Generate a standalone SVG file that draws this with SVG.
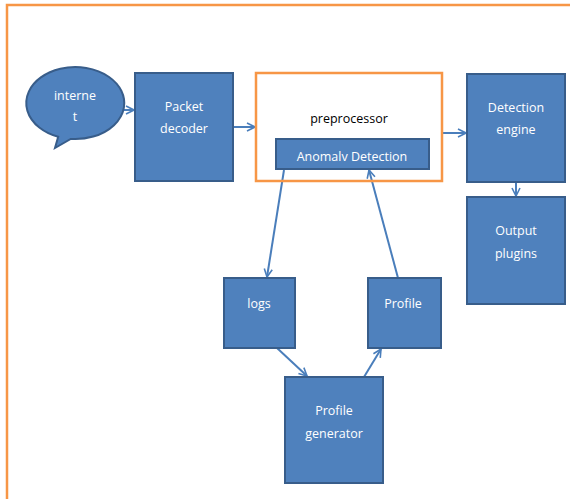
<svg xmlns="http://www.w3.org/2000/svg" width="570" height="499" viewBox="0 0 570 499">
<style>
.box{fill:#4F81BD;stroke:#385D8A;stroke-width:2}
.frame{fill:none;stroke:#F79646;stroke-width:2.5}
.t{fill:#fff;font-family:"Open Sans","Liberation Sans",sans-serif;font-size:12.5px;text-anchor:middle}
.tk{fill:#000;font-family:"Open Sans","Liberation Sans",sans-serif;font-size:12.5px;text-anchor:middle}
.c{fill:none;stroke:#4A7EBB;stroke-width:2;marker-end:url(#a)}
</style>
<defs>
<marker id="a" viewBox="0 0 10 10" refX="9" refY="5" markerWidth="5" markerHeight="5" orient="auto" markerUnits="strokeWidth">
<path d="M1,1 L9,5 L1,9" fill="none" stroke="#4A7EBB" stroke-width="1.6"/>
</marker>
</defs>
<rect width="570" height="499" fill="#fff"/>
<path class="frame" d="M7,499 V5 H570"/>
<g id="connectors">
<line class="c" x1="124" y1="110" x2="134" y2="110"/>
<line class="c" x1="233" y1="127" x2="255" y2="127"/>
<line class="c" x1="442" y1="133" x2="466" y2="133"/>
<line class="c" x1="516" y1="182" x2="516" y2="196"/>
<line class="c" x1="284" y1="170" x2="267" y2="277"/>
<line class="c" x1="398" y1="278" x2="369" y2="170"/>
<line class="c" x1="277" y1="348" x2="307" y2="376"/>
<line class="c" x1="364" y1="377" x2="381" y2="349"/>
</g>
<g id="internet">
<path class="box" d="M58.2,136.8 A49,36 0 1 1 70.7,138.9 L55,148 Z"/>
<text class="t" x="75" y="100">interne</text>
<text class="t" x="75" y="121">t</text>
</g>
<g id="packet-decoder">
<rect class="box" x="135" y="73" width="98" height="108"/>
<text class="t" x="184" y="111">Packet</text>
<text class="t" x="184" y="133">decoder</text>
</g>
<g id="preprocessor">
<rect class="frame" x="256" y="73" width="186" height="108"/>
<text class="tk" x="349" y="123">preprocessor</text>
</g>
<g id="anomaly-detection">
<rect class="box" x="276" y="139" width="153" height="30"/>
<text class="t" x="352" y="161">Anomalv Detection</text>
</g>
<g id="detection-engine">
<rect class="box" x="467" y="74" width="98" height="108"/>
<text class="t" x="516" y="112">Detection</text>
<text class="t" x="516" y="134">engine</text>
</g>
<g id="output-plugins">
<rect class="box" x="467" y="197" width="98" height="107"/>
<text class="t" x="516" y="235">Output</text>
<text class="t" x="516" y="258">plugins</text>
</g>
<g id="logs">
<rect class="box" x="224" y="278" width="71" height="70"/>
<text class="t" x="259" y="308">logs</text>
</g>
<g id="profile">
<rect class="box" x="368" y="278" width="73" height="70"/>
<text class="t" x="403" y="308">Profile</text>
</g>
<g id="profile-generator">
<rect class="box" x="285" y="377" width="98" height="106"/>
<text class="t" x="334" y="415">Profile</text>
<text class="t" x="334" y="438">generator</text>
</g>
</svg>
